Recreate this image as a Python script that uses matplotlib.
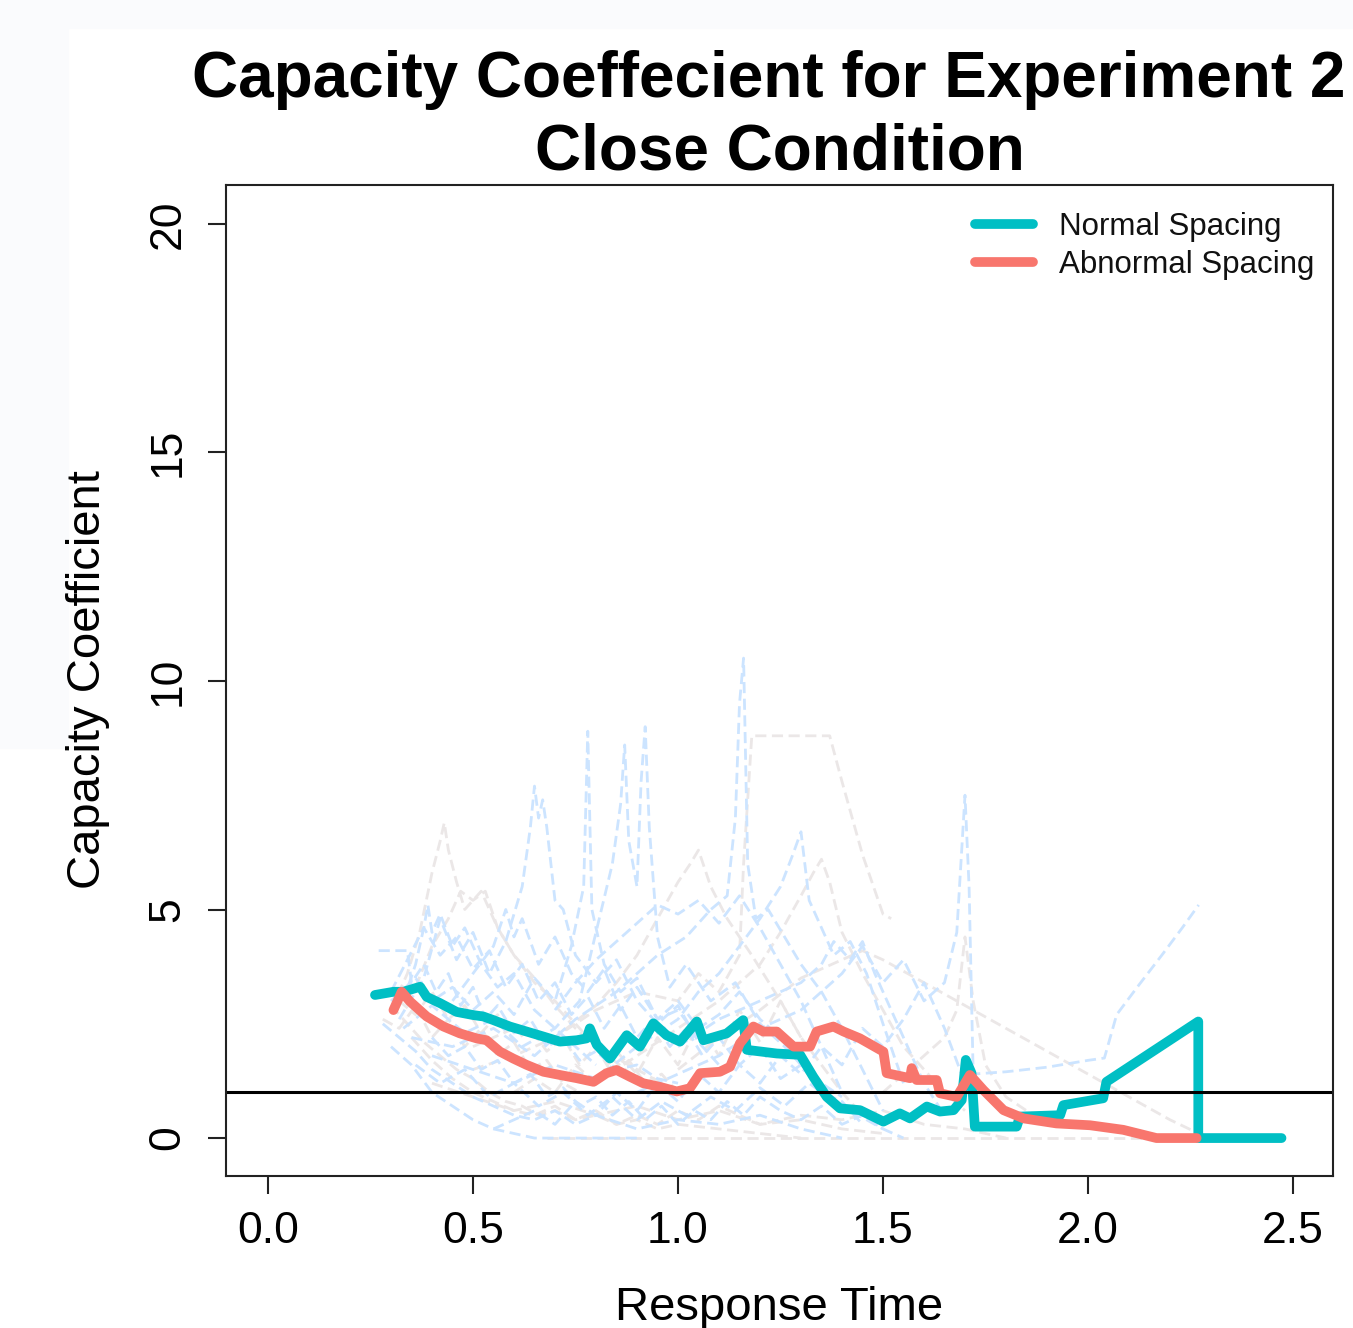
import matplotlib
matplotlib.use("Agg")
import matplotlib.pyplot as plt
from matplotlib.patches import Rectangle

plt.rcParams['font.family'] = ['Liberation Sans', 'DejaVu Sans']

# mean capacity curves
normal_x = [0.261, 0.306, 0.330, 0.371, 0.387, 0.420, 0.460, 0.501, 0.525, 0.550, 0.590, 0.631,
            0.672, 0.712, 0.753, 0.777, 0.785, 0.802, 0.834, 0.875, 0.907, 0.940, 0.972, 1.005,
            1.046, 1.062, 1.119, 1.159, 1.168, 1.241, 1.298, 1.330, 1.363, 1.395, 1.444, 1.501,
            1.541, 1.566, 1.607, 1.639, 1.672, 1.692, 1.702, 1.716, 1.724, 1.826, 1.834, 1.932,
            1.940, 2.037, 2.045, 2.269, 2.269, 2.472]
normal_y = [3.13, 3.20, 3.20, 3.31, 3.09, 2.95, 2.76, 2.69, 2.66, 2.58, 2.44, 2.33,
            2.22, 2.11, 2.14, 2.18, 2.40, 2.04, 1.74, 2.25, 2.00, 2.51, 2.25, 2.11,
            2.55, 2.14, 2.29, 2.58, 1.93, 1.85, 1.82, 1.34, 0.90, 0.65, 0.61, 0.36,
            0.54, 0.43, 0.69, 0.58, 0.61, 0.83, 1.71, 1.42, 0.25, 0.25, 0.47, 0.50,
            0.72, 0.87, 1.23, 2.55, 0.0, 0.0]

abnormal_x = [0.306, 0.326, 0.346, 0.387, 0.428, 0.468, 0.509, 0.533, 0.566, 0.598, 0.631, 0.672,
              0.712, 0.753, 0.794, 0.826, 0.850, 0.883, 0.915, 0.956, 0.997, 1.029, 1.054, 1.102,
              1.127, 1.151, 1.184, 1.208, 1.241, 1.282, 1.322, 1.338, 1.379, 1.404, 1.444, 1.501,
              1.509, 1.566, 1.570, 1.582, 1.631, 1.639, 1.680, 1.712, 1.745, 1.794, 1.843, 1.923,
              2.005, 2.086, 2.167, 2.265]
abnormal_y = [2.80, 3.20, 2.99, 2.66, 2.44, 2.29, 2.18, 2.14, 1.89, 1.74, 1.60, 1.45,
              1.38, 1.31, 1.23, 1.42, 1.49, 1.34, 1.20, 1.12, 1.02, 1.09, 1.42, 1.45,
              1.56, 2.07, 2.44, 2.33, 2.33, 2.00, 2.00, 2.33, 2.44, 2.33, 2.18, 1.89,
              1.42, 1.31, 1.53, 1.27, 1.27, 0.98, 0.90, 1.38, 1.05, 0.61, 0.43, 0.32,
              0.28, 0.18, 0.0, 0.0]

# individual participant curves (light blue = normal, light grey = abnormal)
blue_x = [
    [0.27, 0.34, 0.35, 0.38, 0.41, 0.44, 0.47, 0.50, 0.53, 0.56, 0.60, 0.64, 0.68, 0.72, 0.76, 0.80, 0.85, 0.90, 0.95, 1.00],
    [0.30, 0.36, 0.40, 0.45, 0.50, 0.55, 0.60, 0.65, 0.70, 0.74, 0.77, 0.78, 0.79, 0.82, 0.86, 0.90, 0.95, 1.00, 1.05],
    [0.32, 0.38, 0.42, 0.46, 0.50, 0.54, 0.58, 0.62, 0.64, 0.65, 0.66, 0.67, 0.68, 0.70, 0.72, 0.75, 0.80, 0.85, 0.90, 0.95, 1.00, 1.05, 1.10],
    [0.33, 0.40, 0.48, 0.55, 0.62, 0.70, 0.76, 0.80, 0.84, 0.86, 0.87, 0.88, 0.90, 0.91, 0.92, 0.93, 0.95, 0.98, 1.02, 1.08, 1.14, 1.20, 1.26, 1.32, 1.38],
    [0.35, 0.45, 0.55, 0.65, 0.75, 0.85, 0.95, 1.02, 1.08, 1.12, 1.14, 1.15, 1.16, 1.17, 1.19, 1.22, 1.26, 1.30, 1.35, 1.40, 1.45, 1.50],
    [0.40, 0.50, 0.60, 0.70, 0.80, 0.90, 1.00, 1.05, 1.10, 1.15, 1.20, 1.25, 1.28, 1.30, 1.32, 1.35, 1.38, 1.42, 1.46, 1.50, 1.55],
    [0.90, 1.00, 1.10, 1.20, 1.30, 1.40, 1.45, 1.50, 1.55, 1.60, 1.65, 1.68, 1.70, 1.71, 1.72, 1.80, 1.90, 2.00, 2.04, 2.07, 2.12, 2.18, 2.23, 2.27],
    [0.28, 0.32, 0.36, 0.40, 0.45, 0.50, 0.55, 0.60, 0.65, 0.70, 0.75, 0.80, 0.90, 1.00, 1.10, 1.20, 1.30, 1.40],
    [0.30, 0.34, 0.38, 0.42, 0.46, 0.50, 0.54, 0.58, 0.62, 0.66, 0.70, 0.74, 0.78, 0.82, 0.86, 0.90, 0.94, 0.98, 1.02, 1.06, 1.10, 1.15, 1.20, 1.25, 1.30, 1.35, 1.40, 1.45],
    [1.00, 1.10, 1.20, 1.30, 1.35, 1.38, 1.42, 1.45, 1.48, 1.52, 1.56, 1.60, 1.65],
    [0.36, 0.42, 0.48, 0.54, 0.60, 0.66, 0.72, 0.78, 0.84, 0.90, 0.96, 1.02, 1.08, 1.14, 1.20, 1.26, 1.32, 1.38, 1.44, 1.50],
    [0.33, 0.36, 0.38, 0.39, 0.40, 0.42, 0.45, 0.48, 0.52, 0.56, 0.60, 0.65, 0.70, 0.75, 0.80],
    [0.70, 0.75, 0.80, 0.85, 0.90, 0.95, 1.00, 1.05, 1.10, 1.15, 1.20, 1.25, 1.30, 1.35, 1.40],
    [0.40, 0.44, 0.48, 0.52, 0.56, 0.60, 0.64, 0.68, 0.72, 0.76, 0.80, 0.84, 0.88, 0.92, 0.96, 1.00, 1.04, 1.08, 1.12, 1.16, 1.20, 1.25, 1.30, 1.35, 1.40, 1.45, 1.50, 1.55],
    [0.45, 0.50, 0.55, 0.58, 0.60, 0.62, 0.66, 0.70, 0.74, 0.78, 0.82, 0.86, 0.90, 0.95, 1.00, 1.05, 1.10, 1.15, 1.20, 1.25, 1.30, 1.35, 1.40],
    [0.55, 0.60, 0.65, 0.70, 0.75, 0.80, 0.85, 0.90, 0.95, 1.00, 1.05, 1.10, 1.15, 1.20, 1.25, 1.30, 1.35, 1.40, 1.45, 1.50, 1.55, 1.60, 1.65, 1.70],
    [0.30, 0.35, 0.40, 0.45, 0.50, 0.55, 0.60, 0.65, 0.70, 0.75, 0.80, 0.85, 0.90],
]
blue_y = [
    [4.1, 4.1, 3.4, 3.8, 3.2, 3.6, 2.9, 3.3, 2.6, 2.9, 2.3, 2.6, 2.0, 2.2, 1.7, 1.9, 1.5, 1.6, 1.3, 1.2],
    [3.0, 3.5, 3.0, 3.3, 2.8, 3.2, 2.7, 3.5, 3.0, 4.2, 5.5, 8.9, 5.0, 3.8, 3.2, 3.5, 2.6, 2.8, 2.2],
    [2.6, 3.5, 4.8, 3.9, 4.5, 3.6, 4.3, 5.5, 6.8, 7.7, 7.0, 7.4, 6.8, 5.2, 5.0, 4.0, 3.4, 3.9, 3.0, 2.5, 2.9, 2.1, 1.6],
    [2.4, 2.9, 2.3, 2.6, 2.0, 2.4, 3.0, 4.5, 6.0, 7.3, 8.6, 6.5, 5.5, 7.8, 9.0, 6.8, 4.4, 3.3, 3.8, 3.0, 3.4, 2.5, 2.0, 1.4, 0.8],
    [2.2, 2.0, 2.4, 1.8, 2.6, 3.2, 4.0, 4.4, 5.0, 5.3, 7.0, 9.5, 10.5, 6.0, 4.8, 5.0, 4.4, 3.8, 3.2, 2.4, 1.5, 0.6],
    [1.8, 1.5, 1.2, 1.6, 1.3, 2.0, 2.6, 3.2, 3.6, 4.2, 4.8, 5.5, 6.2, 6.7, 5.2, 4.6, 4.0, 4.3, 3.6, 2.5, 1.2],
    [1.0, 1.4, 1.8, 2.4, 2.8, 3.6, 4.2, 3.4, 3.9, 3.0, 3.4, 4.5, 7.5, 5.5, 1.4, 1.45, 1.55, 1.7, 1.75, 2.7, 3.3, 4.0, 4.6, 5.1],
    [2.5, 2.2, 1.9, 1.5, 1.2, 0.9, 0.7, 0.5, 0.4, 0.6, 0.3, 0.5, 0.2, 0.4, 0.3, 0.5, 0.2, 0.0],
    [3.2, 3.9, 4.6, 4.0, 4.4, 3.7, 4.1, 3.3, 3.8, 3.0, 3.4, 2.7, 3.1, 2.4, 2.9, 2.2, 2.6, 2.0, 2.4, 1.8, 2.2, 1.6, 2.0, 1.3, 1.6, 1.0, 0.8, 0.3],
    [2.0, 2.6, 3.0, 3.4, 3.8, 4.3, 3.9, 4.3, 3.6, 2.8, 2.0, 1.2, 0.5],
    [1.6, 1.2, 1.5, 0.9, 1.2, 0.7, 1.0, 0.5, 0.9, 0.4, 0.8, 0.5, 0.9, 0.6, 1.1, 0.7, 1.2, 0.8, 0.5, 0.2],
    [3.0, 3.8, 4.6, 5.1, 4.5, 4.9, 4.2, 4.6, 3.8, 3.3, 3.6, 2.8, 2.4, 2.0, 1.6],
    [2.8, 3.4, 3.9, 4.3, 4.7, 5.1, 4.9, 5.2, 4.7, 5.3, 4.6, 3.8, 3.0, 2.0, 1.0],
    [2.2, 1.8, 2.0, 1.5, 1.7, 1.2, 1.4, 0.9, 1.1, 0.7, 0.9, 0.5, 0.8, 0.4, 0.7, 0.3, 0.6, 0.4, 0.8, 0.5, 0.9, 0.6, 0.4, 0.7, 0.3, 0.5, 0.2, 0.0],
    [3.0, 3.6, 4.2, 5.0, 4.4, 4.8, 3.8, 4.4, 3.6, 3.2, 3.7, 2.8, 3.3, 2.6, 3.0, 2.4, 2.7, 3.2, 2.6, 2.2, 1.6, 1.2, 0.9],
    [0.2, 0.4, 0.6, 0.3, 0.8, 0.5, 1.0, 0.6, 1.2, 0.8, 1.4, 1.0, 1.6, 1.2, 1.8, 1.4, 2.0, 1.6, 2.4, 2.0, 2.6, 3.4, 2.4, 1.2],
    [2.0, 1.6, 1.0, 0.7, 0.4, 0.2, 0.1, 0.0, 0.0, 0.0, 0.0, 0.0, 0.0],
]

grey_x = [
    [0.30, 0.34, 0.37, 0.40, 0.42, 0.43, 0.44, 0.46, 0.48, 0.52, 0.56, 0.60, 0.65, 0.70, 0.75, 0.80, 0.90, 1.00],
    [0.50, 0.60, 0.70, 0.80, 0.90, 1.00, 1.05, 1.10, 1.15, 1.16, 1.18, 1.37, 1.40, 1.45, 1.50, 1.52],
    [1.00, 1.10, 1.20, 1.30, 1.40, 1.45, 1.50, 1.60, 1.70, 1.80, 1.90, 2.00, 2.10, 2.20, 2.27],
    [0.80, 0.90, 1.00, 1.10, 1.20, 1.25, 1.30, 1.33, 1.35, 1.37, 1.40, 1.45, 1.50, 1.55, 1.60, 1.65, 1.70],
    [1.50, 1.55, 1.60, 1.65, 1.68, 1.70, 1.72, 1.75, 1.80, 1.85, 1.90],
    [0.68, 0.80, 1.00, 1.20, 1.40, 1.60, 1.80, 2.00, 2.20, 2.27],
    [0.30, 0.34, 0.38, 0.42, 0.46, 0.50, 0.54, 0.58, 0.62, 0.66, 0.70, 0.75, 0.80, 0.85, 0.90, 0.95, 1.00, 1.10, 1.20, 1.30],
    [0.50, 0.60, 0.70, 0.80, 0.85, 0.90, 0.95, 1.00, 1.03, 1.05, 1.08, 1.12, 1.18, 1.25, 1.30],
    [0.32, 0.36, 0.40, 0.44, 0.48, 0.52, 0.56, 0.60, 0.64, 0.68, 0.72, 0.76, 0.80, 0.84, 0.88, 0.92, 0.96, 1.00],
    [0.36, 0.40, 0.44, 0.47, 0.50, 0.53, 0.56, 0.60, 0.65, 0.70, 0.75, 0.80, 0.90],
    [0.40, 0.50, 0.60, 0.70, 0.80, 0.90, 1.00, 1.10, 1.20, 1.30, 1.40, 1.50, 1.60, 1.70, 1.80],
    [0.35, 0.40, 0.45, 0.50, 0.55, 0.60, 0.65, 0.70, 0.75, 0.80, 0.85, 0.90, 0.95, 1.00, 1.05, 1.10, 1.15, 1.20, 1.30, 1.40, 1.50],
    [0.60, 0.65, 0.70, 0.75, 0.80, 0.85, 0.90, 0.95, 1.00, 1.05, 1.10, 1.15, 1.20, 1.25, 1.30, 1.35, 1.40, 1.45],
    [0.28, 0.32, 0.36, 0.40, 0.44, 0.48, 0.52, 0.56, 0.60, 0.64, 0.68, 0.72, 0.76],
]
grey_y = [
    [2.8, 3.6, 4.5, 5.8, 6.5, 6.9, 6.3, 5.6, 5.0, 5.4, 4.6, 4.0, 3.5, 2.9, 2.4, 2.0, 1.5, 1.0],
    [2.0, 2.4, 2.2, 2.8, 3.2, 3.0, 3.6, 3.2, 4.0, 6.0, 8.8, 8.8, 7.8, 6.2, 4.9, 4.8],
    [1.5, 2.2, 2.8, 3.5, 3.9, 4.1, 3.9, 3.4, 2.9, 2.4, 1.9, 1.4, 0.9, 0.4, 0.1],
    [1.2, 1.8, 2.4, 3.0, 3.8, 4.5, 5.3, 5.8, 6.1, 5.6, 4.5, 3.6, 2.8, 2.0, 1.5, 1.0, 0.6],
    [1.0, 1.4, 1.8, 2.2, 2.8, 4.4, 3.0, 1.6, 0.9, 0.6, 0.4],
    [0.0, 0.0, 0.0, 0.0, 0.0, 0.0, 0.0, 0.0, 0.0, 0.0],
    [2.9, 2.5, 2.1, 1.8, 1.5, 1.3, 1.0, 0.8, 0.7, 0.5, 0.6, 0.4, 0.5, 0.3, 0.4, 0.2, 0.3, 0.2, 0.1, 0.0],
    [1.5, 1.8, 2.2, 2.9, 3.4, 4.0, 4.8, 5.6, 6.0, 6.3, 5.5, 4.8, 4.0, 3.0, 2.2],
    [3.0, 2.7, 3.2, 2.6, 2.9, 2.3, 2.7, 2.1, 2.4, 1.9, 2.2, 1.6, 2.0, 1.4, 1.7, 1.2, 1.4, 1.0],
    [3.3, 4.2, 4.8, 5.4, 5.2, 5.4, 4.6, 4.0, 3.4, 3.0, 2.5, 2.0, 1.3],
    [1.2, 0.9, 0.6, 0.8, 0.5, 0.7, 0.4, 0.6, 0.3, 0.5, 0.4, 0.6, 0.3, 0.2, 0.0],
    [2.2, 1.7, 1.3, 1.0, 0.8, 0.6, 0.5, 0.7, 0.4, 0.6, 0.3, 0.5, 0.3, 0.6, 0.4, 0.7, 0.5, 0.3, 0.4, 0.2, 0.1],
    [1.0, 1.3, 1.0, 1.6, 1.2, 1.9, 1.4, 2.2, 1.6, 2.5, 1.8, 2.8, 2.1, 3.0, 2.2, 1.6, 1.0, 0.5],
    [2.6, 2.4, 2.9, 2.2, 2.6, 2.0, 2.4, 1.8, 2.1, 1.5, 1.7, 1.2, 1.0],
]

x_ticks = [0.0, 0.5, 1.0, 1.5, 2.0, 2.5]
y_ticks = [0, 5, 10, 15, 20]

fig = plt.figure(figsize=(13.53, 13.28), dpi=100)
fig.patch.set_facecolor('white')
# faint off-white screenshot margins
fig.patches.append(Rectangle((0, 1 - 28 / 1328), 1, 28 / 1328, transform=fig.transFigure,
                             color='#fafbfd', zorder=0))
fig.patches.append(Rectangle((0, 1 - 748 / 1328), 68 / 1353, 720 / 1328, transform=fig.transFigure,
                             color='#fafbfd', zorder=0))

ax = fig.add_axes([226 / 1353, 1 - 1176 / 1328, (1333 - 226) / 1353, (1176 - 185) / 1328])

for xs, ys in zip(grey_x, grey_y):
    ax.plot(xs, ys, color='#ebe7e7', lw=2.0, dashes=(4, 2))
for xs, ys in zip(blue_x, blue_y):
    ax.plot(xs, ys, color='#cce4ff', lw=2.0, dashes=(4, 2))

ax.plot(normal_x, normal_y, color='#00BFC4', lw=7, solid_joinstyle='round',
        solid_capstyle='round', label='Normal Spacing')
ax.plot(abnormal_x, abnormal_y, color='#F8766D', lw=7, solid_joinstyle='round',
        solid_capstyle='round', label='Abnormal Spacing')
ax.axhline(1, color='black', lw=2.2)

ax.set_xlim(-0.1024, 2.5976)
ax.set_ylim(-0.83, 20.85)
ax.set_xticks(x_ticks)
ax.set_xticklabels(['%.1f' % v for v in x_ticks])
ax.set_yticks(y_ticks)
ax.set_yticklabels([str(v) for v in y_ticks], rotation=90, va='center')
ax.tick_params(axis='both', labelsize=32, length=13, width=1.5, color='#222222')
ax.tick_params(axis='x', pad=12)
ax.tick_params(axis='y', pad=14)
for s in ax.spines.values():
    s.set_linewidth(1.5)
    s.set_color('#222222')

leg = ax.legend(loc='center left', bbox_to_anchor=(975 / 1353, 1 - 246 / 1328),
                bbox_transform=fig.transFigure, frameon=False, fontsize=22.5,
                handlelength=1.85, handletextpad=0.85, labelspacing=0.25,
                borderpad=0, borderaxespad=0)
for t in leg.get_texts():
    t.set_color('#111111')

cx = (226 + 1333) / 2 / 1353
fig.text(769 / 1353, 1 - 97 / 1328, 'Capacity Coeffecient for Experiment 2', ha='center',
         va='baseline', fontsize=46, fontweight='bold')
fig.text(cx, 1 - 170 / 1328, 'Close Condition', ha='center', va='baseline',
         fontsize=46, fontweight='bold')
fig.text(cx, 1 - 1308 / 1328, 'Response Time', ha='center', va='center', fontsize=34)
fig.text(88 / 1353, 1 - 680 / 1328, 'Capacity Coefficient', ha='center', va='center',
         rotation=90, fontsize=34)

fig.savefig('out.png', dpi=100)
